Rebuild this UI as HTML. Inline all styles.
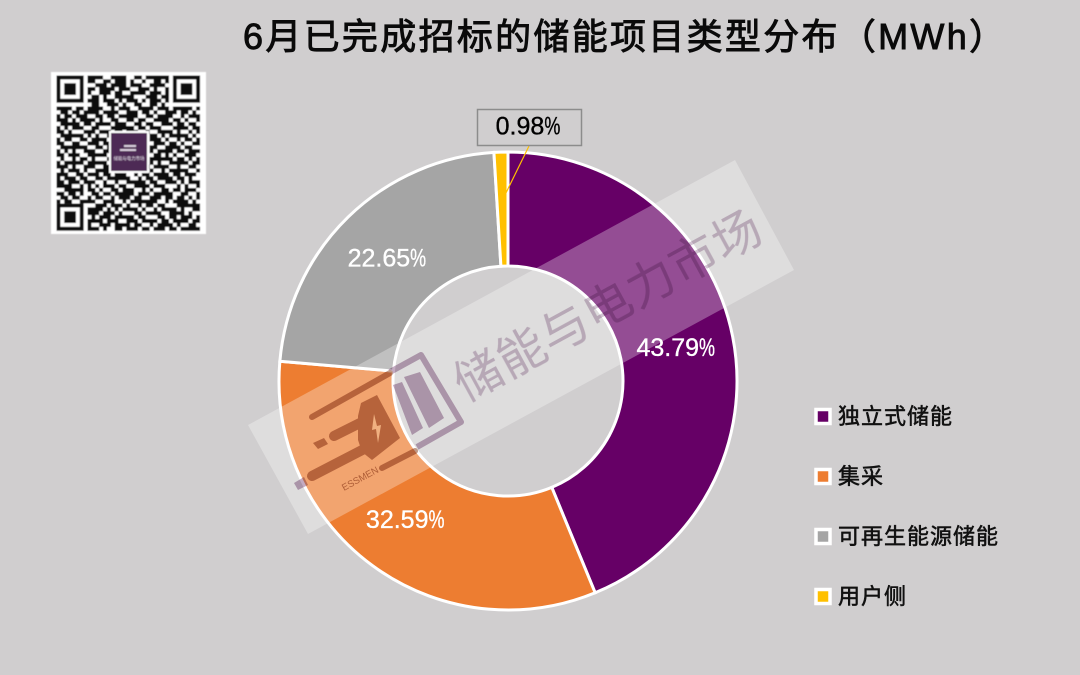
<!DOCTYPE html>
<html lang="zh">
<head>
<meta charset="utf-8">
<title>6月已完成招标的储能项目类型分布（MWh）</title>
<style>
html,body{margin:0;padding:0;background:#d0cecf;}
svg{display:block;}
text{font-family:"Liberation Sans","Noto Sans CJK SC",sans-serif;}
</style>
</head>
<body>
<svg id="chart" xmlns="http://www.w3.org/2000/svg" width="1080" height="675" viewBox="0 0 1080 675">
  <defs>
    <filter id="soft" x="-5%" y="-5%" width="110%" height="110%"><feGaussianBlur stdDeviation="0.55"/></filter>
  </defs>
  <rect width="1080" height="675" fill="#d0cecf"/>
  <text x="243" y="49" font-size="36" letter-spacing="2.3" fill="#0a0a0a" stroke="#0a0a0a" stroke-width="0.9">6月已完成招标的储能项目类型分布（MWh）</text>

  <g id="qr" filter="url(#soft)"></g>
  <g id="slices"></g>
  <line id="leader" stroke="#ffc000" stroke-width="1.2"/>
  <rect x="477.5" y="109.5" width="104" height="36" fill="#d0cecf" stroke="#8c8c8c" stroke-width="1.5"/>
  <g id="labels"></g>
  <g id="legend"></g>

  <g>
    <polygon points="248,425 735,160 794,270 308,534" fill="#ffffff" fill-opacity="0.3"/>
    <g style="mix-blend-mode:multiply" fill="#c4abc2" stroke="none">
      <text x="0" y="0" font-size="48" letter-spacing="1" text-anchor="middle" fill="#d2c2d2" transform="translate(616,320) rotate(-28.6)">储能与电力市场</text>
      <path d="M390 372L421 355L461 422L417 447" fill="none" stroke="#c4abc2" stroke-width="6" stroke-linejoin="round"/>
      <polygon points="404,377 420,372 444,418 429,428"/>
      <polygon points="393,385 402,382 423,428 412,435"/>
      <g fill="#c09a88" stroke="#c09a88">
        <line x1="312" y1="417" x2="390" y2="373" stroke-width="6" stroke-linecap="round"/>
        <line x1="334" y1="436" x2="366" y2="420" stroke-width="10" stroke-linecap="round"/>
        <line x1="312" y1="476" x2="368" y2="447" stroke-width="10" stroke-linecap="round"/>
        <line x1="382" y1="468" x2="415" y2="451" stroke-width="6" stroke-linecap="round"/>
        <polygon points="313,443 324,438 328,444 318,449" stroke="none"/>
        <polygon points="361,403 377,395 400,438 372,460 362,452 358,440 358,428 358,416" stroke="none"/>
      </g>
      <polygon points="294,483 304,477 308,485 298,490"/>
      <text x="0" y="0" font-size="9.5" fill="#b8907c" transform="translate(344,491) rotate(-28.6)">ESSMEN</text>
    </g>
    <polygon points="374,414 372,430 376,429 378,443 381,425 377,426" fill="#f0b080"/>
  </g>
</svg>
<script>
// Chart data
const categories = ['独立式储能', '集采', '可再生能源储能', '用户侧'];
const seriesValues = [43.79, 32.59, 22.65, 0.98];
const printedLabels = ['43.79%', '32.59%', '22.65%', '0.98%'];
const sliceColors = ['#660066', '#ed7d31', '#a5a5a5', '#ffc000'];

const NS = 'http://www.w3.org/2000/svg';
const cx = 508, cy = 381, rOuter = 229, rInner = 115, rLabel = 172, rLeader = 181;
const total = seriesValues.reduce((a, b) => a + b, 0);

function angleOf(v) { return v / total * Math.PI * 2; }
function pt(r, a) { return [cx + r * Math.sin(a), cy - r * Math.cos(a)]; }

const sliceGroup = document.getElementById('slices');
const labelGroup = document.getElementById('labels');
const legendGroup = document.getElementById('legend');

let acc = 0;
seriesValues.forEach(function (v, i) {
  const a0 = angleOf(acc), a1 = angleOf(acc + v), mid = (a0 + a1) / 2;
  acc += v;
  const large = a1 - a0 > Math.PI ? 1 : 0;
  const p0 = pt(rOuter, a0), p1 = pt(rOuter, a1), p2 = pt(rInner, a1), p3 = pt(rInner, a0);
  const slice = document.createElementNS(NS, 'path');
  slice.setAttribute('d', 'M' + p0 + 'A' + rOuter + ' ' + rOuter + ' 0 ' + large + ' 1 ' + p1 +
    'L' + p2 + 'A' + rInner + ' ' + rInner + ' 0 ' + large + ' 0 ' + p3 + 'Z');
  slice.setAttribute('fill', sliceColors[i]);
  slice.setAttribute('stroke', '#ffffff');
  slice.setAttribute('stroke-width', '3');
  
  
  sliceGroup.appendChild(slice);

  const label = document.createElementNS(NS, 'text');
  const small = v / total < 0.05;
  const lp = small ? [529, 126] : pt(rLabel, mid);
  const color = small ? '#000000' : '#ffffff';
  label.setAttribute('x', lp[0] - 1);
  label.setAttribute('y', lp[1] + 8.5);
  label.setAttribute('text-anchor', 'middle');
  label.setAttribute('font-size', '25');
  label.setAttribute('fill', color);
  label.setAttribute('stroke', color);
  label.setAttribute('stroke-width', '0.35');
  
  
  const text = printedLabels[i];
  label.appendChild(document.createTextNode(text.slice(0, -1)));
  const pct = document.createElementNS(NS, 'tspan');
  pct.setAttribute('textLength', '16');
  pct.setAttribute('lengthAdjust', 'spacingAndGlyphs');
  
  
  pct.textContent = text.slice(-1);
  label.appendChild(pct);
  labelGroup.appendChild(label);

  if (small) {
    const lead = document.getElementById('leader');
    const e = pt(rLeader, mid);
    lead.setAttribute('x1', 529);
    lead.setAttribute('y1', 146);
    lead.setAttribute('x2', e[0]);
    lead.setAttribute('y2', e[1]);
  }

  const rowY = 416.5 + i * 60;
  const mark = document.createElementNS(NS, 'rect');
  mark.setAttribute('x', 816);
  mark.setAttribute('y', rowY - 7);
  mark.setAttribute('width', 14);
  mark.setAttribute('height', 14);
  mark.setAttribute('fill', sliceColors[i]);
  mark.setAttribute('stroke', '#ffffff');
  mark.setAttribute('stroke-width', '3.5');
  
  
  legendGroup.appendChild(mark);

  const name = document.createElementNS(NS, 'text');
  name.setAttribute('x', 838);
  name.setAttribute('y', rowY + 7.5);
  name.setAttribute('font-size', '22');
  name.setAttribute('letter-spacing', '1');
  name.setAttribute('fill', '#111111');
  name.setAttribute('stroke', '#111111');
  name.setAttribute('stroke-width', '0.55');
  
  
  name.textContent = categories[i];
  legendGroup.appendChild(name);
});

// QR code pattern
const qrRows = [
'0000000011110011110011011111100000000',
'0000000011001101110100100110100000000',
'0000000000111011110111001111000000000',
'0000000011011110111001110100100000000',
'0000000010011101100111101110100000000',
'0000000001101001111100011101100000000',
'0000000011101110101110101110100000000',
'0000000001100111010011001101000000000',
'1111011011110010111001111011101111101',
'0110110111101111001110110100111011010',
'1011011100110110111110011011110010111',
'1110101111010011001101100111101101001',
'0111110110111101110011011001110110110',
'1010111001100011111101101110001111011',
'1101000111011101101110010011110100101',
'0111111010100110000000001101011111010',
'1011001101111010000000001110100101101',
'1100110011101100000000000111011010011',
'0111111100110100000000001100111101100',
'1010100111001110000000001011110110111',
'1101110011111000000000000110101001110',
'0100101101000110000000001111110110101',
'1011111011111010000000001010011111011',
'1110100111001101110100110111100100110',
'0101110100111110101111001001011111001',
'1110011011101101110010110111101101110',
'1011101100110111111001011011110110100',
'1101110111001001001111101100111010111',
'1111001010101110110011110111000101001',
'0011111011010011011100101001101101110',
'1101101001101101111101110111110011001',
'0110110010110010111011001110110110101',
'1011001111001110010111111100101111010',
'0000000000111011101001011011000111111',
'0000000011110101011110100101111010011',
'0000000011101110100011011110011110100',
'0000000001011101111101100011011011101',
'0000000011110111001110111101101111011',
'0000000010011101111011001011110100110',
'0000000011101001101110110111011011111'
];
const qrSize = 3.88, qrX = 56.5, qrY = 75.5;

(function drawQr() {
  const g = document.getElementById('qr');
  const make = function (x, y, w, h, fill, name) {
    const r = document.createElementNS(NS, 'rect');
    r.setAttribute('x', x);
    r.setAttribute('y', y);
    r.setAttribute('width', w);
    r.setAttribute('height', h);
    r.setAttribute('fill', fill);
    
    
    g.appendChild(r);
  };
  make(51, 72, 155, 162, '#ffffff', 'qr-background');
  let d = '';
  qrRows.forEach(function (row, y) {
    for (let x = 0; x < row.length; x++) {
      if (row[x] === '1') {
        d += 'M' + (qrX + x * qrSize) + ' ' + (qrY + y * qrSize) + 'h' + qrSize + 'v' + qrSize + 'h-' + qrSize + 'z';
      }
    }
  });
  const mods = document.createElementNS(NS, 'path');
  mods.setAttribute('d', d);
  mods.setAttribute('fill', '#111111');
  
  
  g.appendChild(mods);
  [[0, 0], [30, 0], [0, 33]].forEach(function (f) {
    const fx = qrX + f[0] * qrSize, fy = qrY + f[1] * qrSize;
    make(fx, fy, 7 * qrSize, 7 * qrSize, '#111111', 'qr-finder-outer');
    make(fx + qrSize, fy + qrSize, 5 * qrSize, 5 * qrSize, '#ffffff', 'qr-finder-gap');
    make(fx + 2 * qrSize, fy + 2 * qrSize, 3 * qrSize, 3 * qrSize, '#111111', 'qr-finder-core');
  });
  make(109, 131, 40, 42, '#ffffff', 'qr-logo-border');
  make(111, 133, 36, 38, '#4d2a55', 'qr-logo');
  make(124, 145, 12, 2, '#d8cfdc', 'qr-logo-mark');
  make(120, 149, 16, 2, '#d8cfdc', 'qr-logo-mark');
  const t = document.createElementNS(NS, 'text');
  t.setAttribute('x', 129);
  t.setAttribute('y', 160);
  t.setAttribute('text-anchor', 'middle');
  t.setAttribute('font-size', '4.4');
  t.setAttribute('fill', '#e4dce8');
  
  
  t.textContent = '储能与电力市场';
  g.appendChild(t);
})();
</script>
</body>
</html>
